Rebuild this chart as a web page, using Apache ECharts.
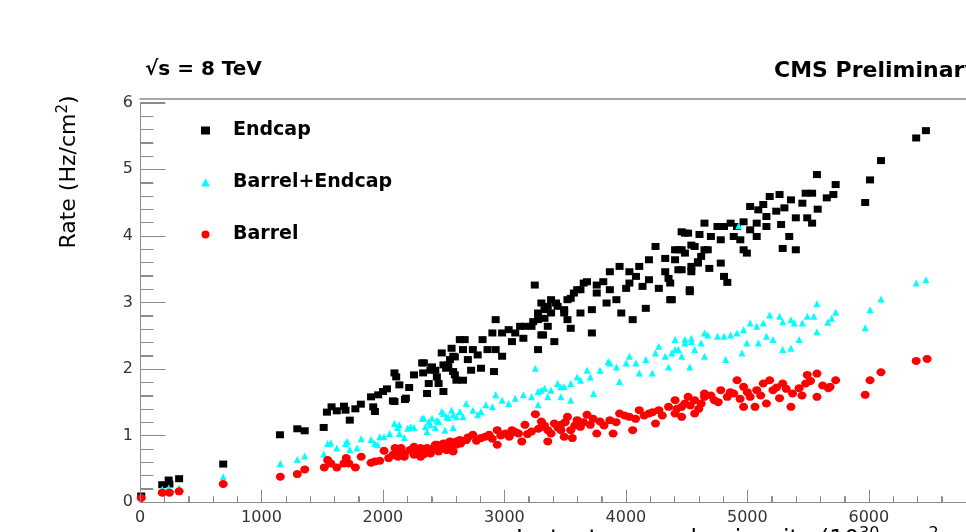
<!DOCTYPE html>
<html>
<head>
<meta charset="utf-8">
<title>Rate vs luminosity</title>
<script src="https://cdn.jsdelivr.net/npm/echarts@6/dist/echarts.min.js"></script>
<style>
  html, body { margin: 0; padding: 0; background: #fff; }
  #main { width: 966px; height: 532px; }
</style>
</head>
<body>
<div id="main"></div>
<script type="text/javascript">
// [luminosity, rate]
var endcap = [
  [10,0.09],[183,0.26],[236,0.33],[242,0.27],[322,0.35],[685,0.57],
  [1152,1.01],[1295,1.10],[1356,1.07],[1512,1.12],[1539,1.35],[1577,1.43],[1620,1.37],[1679,1.44],
  [1692,1.38],[1727,1.23],[1773,1.40],[1818,1.47],[1902,1.58],[1920,1.43],[1934,1.36],[1961,1.61],
  [2001,1.66],[2033,1.70],[2082,1.52],[2095,1.94],[2109,1.88],[2135,1.76],[2181,1.54],[2216,1.72],
  [2256,1.91],[2323,2.09],[2331,1.94],[2363,1.63],[2377,1.78],[2404,2.03],[2431,1.98],[2458,1.78],
  [2484,2.24],[2498,1.66],[2520,2.01],[2552,2.14],[2565,2.31],[2578,1.96],[2592,2.18],[2605,1.83],
  [2633,2.44],[2095,1.51],[2189,1.56],[2337,2.09],[2391,1.98],[2444,1.88],[2498,2.06],[2538,2.06],
  [2579,2.19],[2592,1.91],[2659,1.83],[2659,2.29],[2673,2.44],[2699,2.14],[2726,1.98],[2740,2.29],
  [2780,2.21],[2807,2.01],[2820,2.44],[2861,2.29],[2901,2.54],[2914,1.96],[2928,2.74],[2928,2.29],
  [2981,2.54],[2981,2.19],[3035,2.59],[3062,2.41],[3089,2.54],[3129,2.64],[3156,2.46],[3169,2.64],
  [3223,2.64],[3237,2.71],[3250,3.26],[3277,2.84],[3277,2.29],[3304,2.99],[3318,2.51],[3330,2.76],
  [3357,2.94],[3384,2.84],[3411,2.41],[3425,2.99],[3492,2.89],[3519,2.74],[3546,3.06],[3546,2.61],
  [3599,3.19],[3653,3.29],[3277,2.74],[3304,2.51],[3330,2.89],[3357,2.64],[3384,3.04],[3438,2.94],
  [3492,2.84],[3519,3.04],[3572,3.14],[3626,3.19],[3626,2.84],[3680,3.31],[3720,2.54],[3720,2.89],
  [3760,3.26],[3760,3.14],[3814,3.31],[3841,2.99],[3868,3.46],[3868,3.19],[3922,3.04],[3948,3.54],
  [3962,2.84],[4002,3.21],[4029,3.46],[4029,3.29],[4056,2.74],[4083,3.39],[4110,3.54],[4137,3.24],
  [4164,2.91],[4190,3.64],[4190,3.34],[4244,3.84],[4271,3.21],[4324,3.66],[4324,3.46],[4351,3.36],
  [4378,3.04],[4405,3.79],[4432,3.49],[4459,3.79],[4486,4.04],[4526,3.19],[4539,3.86],[4539,3.46],
  [4593,3.61],[4606,4.02],[4647,4.19],[4647,3.79],[4365,3.29],[4365,3.04],[4405,3.64],[4432,3.79],
  [4459,4.06],[4459,3.49],[4486,3.74],[4512,4.04],[4526,3.16],[4539,3.54],[4566,3.84],[4593,3.59],
  [4620,3.69],[4674,3.79],[4687,3.51],[4700,3.99],[4754,4.14],[4781,3.94],[4781,3.59],[4808,4.14],
  [4808,3.39],[4835,3.30],[4862,4.19],[4888,3.99],[4915,4.14],[4942,3.94],[4969,4.21],[4969,3.79],
  [4996,3.74],[5023,4.44],[5023,4.09],[5077,4.19],[5077,3.99],[5090,4.39],[5131,4.47],[5157,4.29],
  [5157,4.14],[5184,4.59],[5238,4.37],[5265,4.62],[5278,4.17],[5291,3.81],[5305,4.42],[5345,3.99],
  [5359,4.54],[5399,4.27],[5399,3.79],[5453,4.49],[5480,4.64],[5493,4.27],[5533,4.64],[5533,4.19],
  [5573,4.92],[5579,4.40],[5654,4.57],[5708,4.62],[5727,4.77],
  [5970,4.50],[6010,4.84],[6100,5.13],[6390,5.47],[6470,5.58]
];

var barrelEndcap = [
  [10,0.07],[183,0.19],[236,0.21],[322,0.21],[685,0.38],
  [1155,0.58],[1295,0.64],[1356,0.69],[1512,0.72],[1545,0.88],[1571,0.89],[1620,0.81],[1692,0.88],
  [1706,0.91],[1727,0.79],[1786,0.81],[1821,0.95],[1902,0.94],[1934,0.88],[1956,0.86],[1974,0.98],
  [2009,0.98],[2055,1.03],[2095,1.18],[2122,1.12],[2135,1.03],[2176,0.97],[2203,1.11],[2256,1.12],
  [2323,1.26],[2350,1.13],[2377,1.21],[2404,1.26],[2431,1.12],[2458,1.21],[2484,1.36],[2511,1.08],
  [2538,1.27],[2565,1.38],[2578,1.12],[2605,1.28],[2633,1.36],[2135,1.16],[2229,1.13],[2337,1.26],
  [2363,1.06],[2391,1.16],[2444,1.23],[2498,1.33],[2525,1.28],[2579,1.31],[2659,1.28],[2686,1.48],
  [2740,1.38],[2780,1.31],[2807,1.36],[2847,1.46],[2901,1.43],[2928,1.61],[2981,1.53],[3035,1.48],
  [3089,1.56],[3156,1.61],[3223,1.58],[3255,2.01],[3277,1.66],[3277,1.46],[3330,1.71],[3357,1.58],
  [3384,1.68],[3438,1.78],[3492,1.73],[3546,1.78],[3546,1.53],[3599,1.88],[3680,1.98],[3304,1.68],
  [3465,1.73],[3465,1.58],[3626,1.83],[3707,1.88],[3734,1.63],[3787,1.98],[3855,2.11],[3868,2.09],
  [3922,2.03],[3948,1.81],[4002,2.09],[4029,2.19],[4083,2.09],[4110,1.94],[4164,2.14],[4217,1.94],
  [4244,2.24],[4271,2.34],[4324,2.19],[4351,2.03],[4405,2.29],[4405,2.44],[4459,2.19],[4486,2.39],
  [4539,2.46],[4566,2.29],[4620,2.39],[4647,2.54],[4378,2.24],[4432,2.29],[4486,2.44],[4526,2.03],
  [4539,2.41],[4647,2.19],[4674,2.51],[4754,2.49],[4808,2.49],[4821,2.14],[4862,2.51],[4915,2.54],
  [4929,4.15],[4956,2.24],[4969,2.59],[4996,2.39],[5023,2.69],[5077,2.64],[5090,2.39],[5131,2.69],
  [5157,2.49],[5184,2.81],[5211,2.44],[5265,2.79],[5291,2.71],[5291,2.29],[5359,2.74],[5359,2.31],
  [5386,2.69],[5426,2.44],[5453,2.69],[5493,2.79],[5547,2.79],[5573,2.98],[5573,2.56],[5662,2.70],
  [5694,2.76],[5727,2.85],
  [5970,2.62],[6010,2.89],[6100,3.05],[6390,3.29],[6470,3.34]
];

var barrel = [
  [10,0.06],[183,0.14],[242,0.14],[322,0.16],[685,0.27],
  [1155,0.38],[1295,0.42],[1356,0.49],[1517,0.52],[1545,0.63],[1571,0.58],[1620,0.52],[1679,0.58],
  [1698,0.66],[1719,0.58],[1773,0.52],[1821,0.68],[1902,0.59],[1934,0.61],[1974,0.62],[2009,0.77],
  [2047,0.66],[2082,0.71],[2100,0.81],[2122,0.68],[2149,0.81],[2176,0.72],[2221,0.78],[2256,0.71],
  [2310,0.81],[2337,0.72],[2363,0.81],[2391,0.73],[2431,0.86],[2458,0.76],[2498,0.88],[2525,0.78],
  [2552,0.91],[2578,0.76],[2605,0.86],[2633,0.93],[2122,0.78],[2176,0.68],[2256,0.83],[2310,0.68],
  [2363,0.78],[2444,0.86],[2525,0.88],[2605,0.91],[2686,0.93],[2740,1.01],[2807,0.96],[2874,1.01],
  [2941,1.08],[2941,0.86],[3008,1.03],[3062,1.08],[3116,1.03],[3143,0.91],[3169,1.16],[3223,1.06],
  [3255,1.32],[3304,1.21],[3357,1.08],[3357,0.91],[3411,1.18],[3465,1.16],[3492,0.98],[3519,1.28],
  [3559,0.96],[3599,1.23],[3680,1.31],[3304,1.13],[3384,1.03],[3465,1.08],[3546,1.08],[3626,1.13],
  [3707,1.16],[3760,1.03],[3787,1.21],[3868,1.23],[3895,1.03],[3948,1.33],[4029,1.28],[4056,1.08],
  [4110,1.38],[4190,1.33],[4244,1.18],[4271,1.38],[4351,1.43],[4405,1.53],[4459,1.28],[4486,1.48],
  [4566,1.53],[4566,1.33],[4620,1.48],[4647,1.63],[4405,1.33],[4459,1.43],[4512,1.58],[4647,1.58],
  [4727,1.53],[4781,1.68],[4835,1.58],[4888,1.63],[4915,1.83],[4969,1.73],[4969,1.43],[5023,1.58],
  [5063,1.43],[5077,1.68],[5131,1.78],[5157,1.48],[5184,1.83],[5211,1.68],[5265,1.56],[5291,1.78],
  [5359,1.43],[5372,1.63],[5426,1.71],[5480,1.78],[5493,1.91],[5573,1.93],[5573,1.58],[5667,1.71],
  [5681,1.73],[5727,1.83],
  [2270,0.76],[2410,0.80],[2470,0.82],[2560,0.84],[2640,0.88],[2700,0.97],[2770,0.92],[2840,0.98],
  [2900,0.95],[2970,1.00],[3040,0.98],[3090,1.05],[3190,1.02],[3280,1.10],[3330,1.15],[3440,1.12],
  [3500,1.20],[3580,1.15],[3650,1.20],[3730,1.25],[3820,1.15],[3920,1.20],[3990,1.30],[4080,1.25],
  [4150,1.30],[4220,1.35],[4300,1.30],[4420,1.40],[4530,1.45],[4600,1.40],[4700,1.60],[4760,1.50],
  [4860,1.65],[4940,1.55],[5000,1.65],[5110,1.60],[5240,1.72],[5320,1.70],[5450,1.60],[5520,1.82],
  [5620,1.75],
  [5970,1.61],[6010,1.83],[6100,1.95],[6390,2.12],[6480,2.15]
];

// axis range [min, max, interval] and tick positions
var xRange = [0, 6800, 1000];
var yRange = [0, 6, 1];
var xMajor = [0, 1000, 2000, 3000, 4000, 5000, 6000];
var xMinor = [200, 400, 600, 800, 1200, 1400, 1600, 1800, 2200, 2400, 2600, 2800,
              3200, 3400, 3600, 3800, 4200, 4400, 4600, 4800, 5200, 5400, 5600, 5800,
              6200, 6400, 6600];
var yMajor = [0, 1, 2, 3, 4, 5, 6];
var yMinor = [0.2, 0.4, 0.6, 0.8, 1.2, 1.4, 1.6, 1.8, 2.2, 2.4, 2.6, 2.8,
              3.2, 3.4, 3.6, 3.8, 4.2, 4.4, 4.6, 4.8, 5.2, 5.4, 5.6, 5.8];

var myChart = echarts.init(document.getElementById('main'));
var font = 'DejaVu Sans';
var gray = '#8c8c8c';

var yTitle = { type: 'text', x: 69, y: 172, rotation: Math.PI / 2,
    style: { text: 'Rate (Hz/cm{sup|2})', font: '22px "DejaVu Sans"', fill: '#000',
             textAlign: 'center', textVerticalAlign: 'middle',
             rich: { sup: { fontFamily: font, fontSize: 15, padding: [0,0,12,0], fill: '#000' } } } };

var option = {
    animation: false,
    title: [
        { text: '\u221As = 8 TeV', left: 145, top: 60, padding: 0,
          textStyle: { fontFamily: font, fontWeight: 'bold', fontSize: 20, color: '#000' } },
        { text: 'CMS Preliminary', left: 774, top: 60, padding: 0,
          textStyle: { fontFamily: font, fontWeight: 'bold', fontSize: 22, color: '#000' } },
        { text: 'Instantaneous luminosity (10{sup|30} cm{sup|-2} s{sup|-1})', left: 516, top: 526, padding: 0,
          textStyle: { fontFamily: font, fontWeight: 'normal', fontSize: 23.5, color: '#000',
                       rich: { sup: { fontFamily: font, fontSize: 16, verticalAlign: 'top', padding: [0,0,12,0], color: '#000' } } } }
    ],
    graphic: [yTitle],
    legend: {
        orient: 'vertical', left: 196, top: 116, itemGap: 33,
        itemWidth: 9, itemHeight: 8,
        textStyle: { fontFamily: font, fontWeight: 'bold', fontSize: 19, color: '#000', padding: [0,0,0,18] },
        data: ['Endcap', 'Barrel+Endcap', 'Barrel']
    },
    grid: { left: 140, top: 102.7, width: 843, height: 399.3 },
    xAxis: [
        {
            type: 'value', position: 'bottom', min: xRange[0], max: xRange[1], interval: xRange[2],
            axisLine: { show: true, lineStyle: { color: gray, width: 1 } },
            axisTick: { show: true, inside: true, length: 12, lineStyle: { color: gray } },
            minorTick: { show: true, splitNumber: 5, length: 6, lineStyle: { color: gray } },
            splitLine: { show: false },
            axisLabel: { margin: 8, fontFamily: font, fontSize: 16, color: '#333',
                         showMaxLabel: false, formatter: function (v) { return String(v); } }
        },
        {
            // top frame line
            type: 'value', position: 'top', offset: 3.5, min: xRange[0], max: xRange[1],
            axisLine: { show: true, lineStyle: { color: gray, width: 1.5 } },
            axisTick: { show: false }, axisLabel: { show: false }, splitLine: { show: false }
        }
    ],
    yAxis: {
        type: 'value', position: 'left', min: yRange[0], max: yRange[1], interval: yRange[2],
        axisLine: { show: true, lineStyle: { color: gray, width: 1 } },
        axisTick: { show: true, inside: true, length: 25, lineStyle: { color: gray } },
        minorTick: { show: true, splitNumber: 5, length: 13, lineStyle: { color: gray } },
        splitLine: { show: false },
        axisLabel: { margin: 7, fontFamily: font, fontSize: 16, color: '#333',
                     formatter: function (v) { return String(v); } }
    },
    series: [
        { name: 'Endcap', type: 'scatter', symbol: 'rect', symbolSize: [8, 7],
          itemStyle: { color: '#000', opacity: 1 }, data: endcap, z: 2 },
        { name: 'Barrel+Endcap', type: 'scatter', symbol: 'triangle', symbolSize: 7,
          itemStyle: { color: '#00ffff', opacity: 1 }, data: barrelEndcap, z: 3 },
        { name: 'Barrel', type: 'scatter', symbol: 'circle', symbolSize: [9, 8],
          itemStyle: { color: '#ff0000', opacity: 1 }, data: barrel, z: 4 }
    ]
};

myChart.setOption(option);

// inward tick marks, placed through the axes' own scale
try {
    var els = [yTitle];
    var addTick = function (val, dx, dy) {
        var p = myChart.convertToPixel({ gridIndex: 0 }, val);
        var x = Math.round(p[0]) + 0.5, y = Math.round(p[1]) + 0.5;
        els.push({ type: 'line', silent: true, z: 5,
                   shape: { x1: x, y1: y, x2: x + dx, y2: y + dy },
                   style: { stroke: gray, lineWidth: 1 } });
    };
    xMajor.forEach(function (v) { addTick([v, 0], 0, -12); });
    xMinor.forEach(function (v) { addTick([v, 0], 0, -6); });
    yMajor.forEach(function (v) { addTick([0, v], 25, 0); });
    yMinor.forEach(function (v) { addTick([0, v], 13, 0); });
    myChart.setOption({ graphic: els });
} catch (e) {}
</script>
</body>
</html>
